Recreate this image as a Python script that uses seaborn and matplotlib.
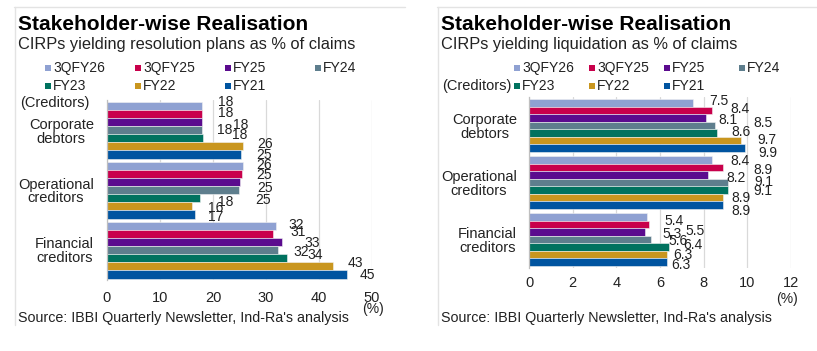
import numpy as np
import pandas as pd
import matplotlib
matplotlib.use("Agg")
import matplotlib.pyplot as plt
from matplotlib.lines import Line2D
from matplotlib.patches import Rectangle
import seaborn as sns

# ---------------- data ----------------
creditors = ["Corporate\ndebtors", "Operational\ncreditors", "Financial\ncreditors"]
periods = ["3QFY26", "3QFY25", "FY25", "FY24", "FY23", "FY22", "FY21"]
colors = ["#8FA1D2", "#C8004B", "#5B0B8E", "#5E7E8D", "#00725F", "#C9961F", "#0054A0"]

# CIRPs yielding resolution plans as % of claims  [corporate, operational, financial]
res_3qfy26 = [18.0, 25.6, 31.9]
res_3qfy25 = [18.0, 25.4, 31.4]
res_fy25 = [18.0, 25.1, 33.1]
res_fy24 = [18.0, 24.9, 32.3]
res_fy23 = [18.2, 17.6, 34.0]
res_fy22 = [25.6, 16.0, 42.7]
res_fy21 = [25.2, 16.6, 45.2]

# CIRPs yielding liquidation as % of claims  [corporate, operational, financial]
liq_3qfy26 = [7.5, 8.4, 5.4]
liq_3qfy25 = [8.4, 8.9, 5.5]
liq_fy25 = [8.1, 8.2, 5.3]
liq_fy24 = [8.5, 9.1, 5.6]
liq_fy23 = [8.6, 9.1, 6.4]
liq_fy22 = [9.7, 8.9, 6.3]
liq_fy21 = [9.9, 8.9, 6.3]

res_series = [res_3qfy26, res_3qfy25, res_fy25, res_fy24, res_fy23, res_fy22, res_fy21]
liq_series = [liq_3qfy26, liq_3qfy25, liq_fy25, liq_fy24, liq_fy23, liq_fy22, liq_fy21]

left_ticks = [0, 10, 20, 30, 40, 50]
right_ticks = [0, 2, 4, 6, 8, 10, 12]

# ---------------- layout (label nudges in px, [creditor][period]) ----------------
LEFT_DX = [[16, 16, 31, 15, 29, 15, 16], [14, 15, 17, 16, 18, 16, 13], [12, 17, 22, 15, 20, 14, 13]]
LEFT_DY = [[-3.6, -0.7, 3.2, 0, -3, -2, 1], [-0.6, 1.3, 6.2, 10.1, 4, 1.9, 2.8], [-0.6, -1.7, 1.2, 2, -3, -3, 0.8]]
RIGHT_DX = [[16.6, 18.4, 12.6, 39, 15, 16.6, 13], [18.3, 30, 18.7, 26.3, 25.7, 8, 8], [17.3, 36, 17.7, 17, 14.7, 6.3, 5]]
RIGHT_DY = [[-2.4, -1.1, 2.2, -2.8, -0.9, -0.9, 4.7], [1.3, 2.9, 2.5, -0.8, 1.5, 0.4, 6.1], [4, 6, 1.5, 1.5, -2.2, 0.1, 3]]

W, H = 817, 351
sns.set_style("white")
plt.rcParams["font.family"] = ["Liberation Sans", "DejaVu Sans"]
TXT = "#222222"

fig = plt.figure(figsize=(W / 100, H / 100), dpi=100)
fig.patch.set_facecolor("white")


def fx(x):
    return x / W


def fy(y):
    return 1 - y / H


def rect(x0, y0, x1, y1):
    return [x0 / W, 1 - y1 / H, (x1 - x0) / W, (y1 - y0) / H]


def long_df(series):
    rows = []
    for p, vals in zip(periods, series):
        for c, v in zip(creditors, vals):
            rows.append({"Creditor": c, "Period": p, "Value": v})
    return pd.DataFrame(rows)


def draw_panel(ax, series, ticks, width, fmt, dxs, dys, ypad, xpad):
    df = long_df(series)
    sns.barplot(data=df, y="Creditor", x="Value", hue="Period", orient="h",
                order=creditors, hue_order=periods, palette=colors,
                width=width, gap=0, errorbar=None, edgecolor="#F2F2F2",
                linewidth=0.4, legend=False, ax=ax, saturation=1)
    ax.set_xlim(ticks[0], ticks[-1])
    ax.set_ylim(2.5, -0.5)
    ax.set_xticks(ticks)
    ax.set_xticklabels([str(t) for t in ticks])
    ax.set_xlabel("")
    ax.set_ylabel("")
    ax.grid(axis="x", color="#D9D9D9", linewidth=0.9)
    ax.grid(axis="y", visible=False)
    ax.set_axisbelow(True)
    for s in ["top", "right", "bottom"]:
        ax.spines[s].set_visible(False)
    ax.spines["left"].set_color("#BFBFBF")
    ax.spines["left"].set_linewidth(0.9)
    ax.tick_params(axis="x", length=0, pad=xpad, labelsize=10.5, labelcolor=TXT)
    ax.set_yticks([0, 1, 2])
    ax.set_yticklabels(creditors)
    ax.set_yticks([-0.5, 0.5, 1.5, 2.5], minor=True)
    ax.tick_params(axis="y", which="major", length=0, pad=ypad, labelsize=10.5, labelcolor=TXT)
    ax.tick_params(axis="y", which="minor", length=3, width=0.9, color="#BFBFBF", direction="out")
    for t in ax.get_yticklabels():
        t.set_multialignment("center")
        t.set_linespacing(1.0)
    # value labels
    for j, cont in enumerate(ax.containers):
        for i, bar in enumerate(cont):
            v = bar.get_width()
            yc = bar.get_y() + bar.get_height() / 2
            ax.annotate(fmt % v, xy=(v, yc), xytext=(dxs[i][j] * 0.72, -dys[i][j] * 0.72),
                        textcoords="offset points", ha="left", va="center",
                        fontsize=10, color=TXT, annotation_clip=False)


axL = fig.add_axes(rect(107, 100, 372, 280))
draw_panel(axL, res_series, left_ticks, 0.95, "%.0f", LEFT_DX, LEFT_DY, 9.5, 8)
axR = fig.add_axes(rect(529, 97, 791, 268))
draw_panel(axR, liq_series, right_ticks, 0.92, "%.1f", RIGHT_DX, RIGHT_DY, 8.6, 6)

# ---------------- frames ----------------
for (x0, x1) in [(14, 405), (437, 817)]:
    fig.add_artist(Line2D([fx(x0), fx(x1)], [fy(7), fy(7)], color="#E3E3E3", lw=1))
    fig.add_artist(Line2D([fx(x0 + 1), fx(x0 + 1)], [fy(7), fy(325)], color="#E3E3E3", lw=1))

# ---------------- texts ----------------
for x0, sub in [(18, "CIRPs yielding resolution plans as % of claims"),
                (441, "CIRPs yielding liquidation as % of claims")]:
    fig.text(fx(x0), fy(24), "Stakeholder-wise Realisation", fontsize=15,
             fontweight="bold", color="black", ha="left", va="center")
    fig.text(fx(x0), fy(45), sub, fontsize=11.8, color=TXT, ha="left", va="center")
    fig.text(fx(x0), fy(318), "Source: IBBI Quarterly Newsletter, Ind-Ra's analysis",
             fontsize=10.3, color=TXT, ha="left", va="center")

fig.text(fx(20), fy(103), "(Creditors)", fontsize=10.5, color=TXT, ha="left", va="center")
fig.text(fx(442), fy(86), "(Creditors)", fontsize=10.5, color=TXT, ha="left", va="center")
fig.text(fx(373), fy(309), "(%)", fontsize=10, color=TXT, ha="center", va="center")
fig.text(fx(787), fy(299), "(%)", fontsize=10, color=TXT, ha="center", va="center")

# ---------------- legends ----------------
for x_start, dx in [(45, 90), (514, 75)]:
    for k, (p, c) in enumerate(zip(periods, colors)):
        row, col = divmod(k, 4)
        xs = x_start + col * dx
        yc = 68 + row * 18
        fig.add_artist(Rectangle((fx(xs), fy(yc + 3)), 6 / W, 6 / H, facecolor=c,
                                 edgecolor="none", transform=fig.transFigure))
        fig.text(fx(xs + 8), fy(yc), p, fontsize=10, color=TXT, ha="left", va="center")

fig.savefig("out.png", dpi=100, facecolor="white")
